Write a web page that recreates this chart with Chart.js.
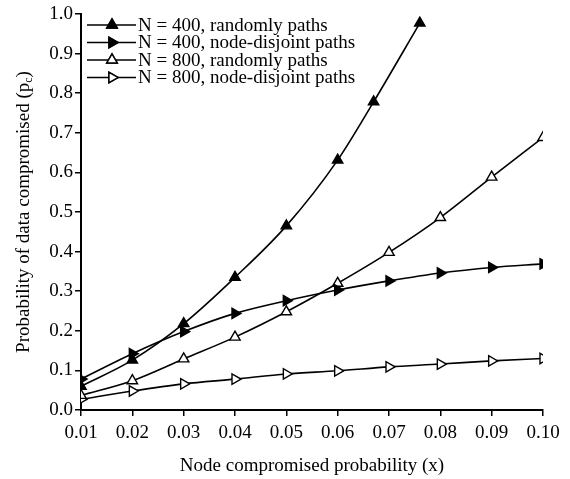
<!DOCTYPE html>
<html>
<head>
<meta charset="utf-8">
<script src="https://cdn.jsdelivr.net/npm/chart.js"></script>
<style>
  html, body { margin: 0; padding: 0; background: #fff; }
  #wrap { width: 570px; height: 479px; }
</style>
</head>
<body>
<div id="wrap"><canvas id="grafico"></canvas></div>
<script>
// datos
const xRandom400 = [0.01, 0.02, 0.03, 0.04, 0.05, 0.06, 0.067, 0.076];
const yRandom400 = [0.060, 0.126, 0.218, 0.335, 0.465, 0.631, 0.778, 0.977];
const xComun = [0.01, 0.02, 0.03, 0.04, 0.05, 0.06, 0.07, 0.08, 0.09, 0.10];
const yDisjoint400 = [0.078, 0.142, 0.198, 0.244, 0.276, 0.303, 0.326, 0.346, 0.360, 0.369];
const yRandom800 = [0.037, 0.074, 0.129, 0.184, 0.248, 0.320, 0.398, 0.486, 0.588, 0.688];
const yDisjoint800 = [0.027, 0.048, 0.066, 0.078, 0.091, 0.099, 0.109, 0.116, 0.124, 0.130];
const etiquetas = [
    'N = 400, randomly paths',
    'N = 400, node-disjoint paths',
    'N = 800, randomly paths',
    'N = 800, node-disjoint paths'
];
const xTicks = [0.01, 0.02, 0.03, 0.04, 0.05, 0.06, 0.07, 0.08, 0.09, 0.10];
const yTicks = [0.0, 0.1, 0.2, 0.3, 0.4, 0.5, 0.6, 0.7, 0.8, 0.9, 1.0];

const fuente = 'Liberation Serif';

function puntos(xs, ys) {
    return ys.map((y, i) => ({ x: xs[i], y: y }));
}

function serie(label, data, relleno, rot) {
    return {
        label: label,
        data: data,
        borderColor: '#000',
        borderWidth: 1.6,
        pointStyle: 'triangle',
        pointRotation: rot,
        pointRadius: 6,
        pointHoverRadius: 6,
        pointBackgroundColor: relleno,
        pointBorderColor: '#000',
        pointBorderWidth: 1.4,
        cubicInterpolationMode: 'monotone',
        fill: false
    };
}

// leyenda dentro del area del grafico
const leyendaPlugin = {
    id: 'leyendaInterna',
    afterDraw(chart) {
        const ctx = chart.ctx;
        ctx.save();
        chart.data.datasets.forEach((ds, i) => {
            const y = 25 + i * 17.5;
            ctx.strokeStyle = '#000';
            ctx.lineWidth = 1.6;
            ctx.beginPath();
            ctx.moveTo(87, y);
            ctx.lineTo(136, y);
            ctx.stroke();
            Chart.helpers.drawPoint(ctx, {
                pointStyle: 'triangle',
                radius: 6,
                rotation: ds.pointRotation,
                borderWidth: 1.4
            }, 112, y);
            ctx.fillStyle = ds.pointBackgroundColor;
            ctx.strokeStyle = '#000';
            ctx.lineWidth = 1.4;
            ctx.fill();
            ctx.stroke();
            ctx.fillStyle = '#000';
            ctx.font = '19px "' + fuente + '"';
            ctx.textAlign = 'left';
            ctx.textBaseline = 'middle';
            ctx.fillText(ds.label, 138, y + 1);
        });
        ctx.restore();
    }
};

// titulo del eje y con subindice
const tituloYPlugin = {
    id: 'tituloY',
    afterDraw(chart) {
        const ctx = chart.ctx;
        const a = chart.chartArea;
        ctx.save();
        ctx.translate(24, (a.top + a.bottom) / 2);
        ctx.rotate(-Math.PI / 2);
        ctx.fillStyle = '#000';
        ctx.textBaseline = 'middle';
        const principal = 'Probability of data compromised (p';
        ctx.font = '19px "' + fuente + '"';
        const w1 = ctx.measureText(principal).width;
        ctx.font = '12px "' + fuente + '"';
        const w2 = ctx.measureText('c').width;
        ctx.font = '19px "' + fuente + '"';
        const w3 = ctx.measureText(')').width;
        let x = -(w1 + w2 + w3) / 2;
        ctx.textAlign = 'left';
        ctx.fillText(principal, x, 0);
        x += w1;
        ctx.font = '12px "' + fuente + '"';
        ctx.fillText('c', x, 5);
        x += w2;
        ctx.font = '19px "' + fuente + '"';
        ctx.fillText(')', x, 0);
        ctx.restore();
    }
};

const ctx = document.getElementById('grafico').getContext('2d');
const miGrafico = new Chart(ctx, {
    type: 'line',
    data: {
        datasets: [
            serie(etiquetas[0], puntos(xRandom400, yRandom400), '#000', 0),
            serie(etiquetas[1], puntos(xComun, yDisjoint400), '#000', 90),
            serie(etiquetas[2], puntos(xComun, yRandom800), '#fff', 0),
            serie(etiquetas[3], puntos(xComun, yDisjoint800), '#fff', 90)
        ]
    },
    options: {
        responsive: true,
        maintainAspectRatio: false,
        animation: false,
        layout: { padding: { top: 14, right: 27, left: 0, bottom: 0 } },
        plugins: {
            legend: { display: false },
            tooltip: { enabled: false }
        },
        scales: {
            x: {
                type: 'linear',
                min: 0.01,
                max: 0.10,
                afterBuildTicks: (axis) => { axis.ticks = xTicks.map(v => ({ value: v })); },
                afterFit: (scale) => { scale.height = 69; },
                border: { display: true, color: '#000', width: 2 },
                grid: { display: true, drawOnChartArea: false, color: '#000', lineWidth: 1.5, tickLength: 6 },
                ticks: {
                    color: '#000',
                    font: { family: fuente, size: 19 },
                    padding: 6,
                    maxRotation: 0,
                    callback: (v) => v.toFixed(2)
                },
                title: {
                    display: true,
                    text: 'Node compromised probability (x)',
                    color: '#000',
                    font: { family: fuente, size: 19 },
                    padding: { top: 0, bottom: 2 }
                }
            },
            y: {
                type: 'linear',
                min: 0,
                max: 1,
                afterBuildTicks: (axis) => { axis.ticks = yTicks.map(v => ({ value: v })); },
                afterFit: (scale) => { scale.width = 81; },
                border: { display: true, color: '#000', width: 2 },
                grid: { display: true, drawOnChartArea: false, color: '#000', lineWidth: 1.5, tickLength: 6 },
                ticks: {
                    color: '#000',
                    font: { family: fuente, size: 19 },
                    padding: 2,
                    callback: (v) => v.toFixed(1)
                }
            }
        }
    },
    plugins: [leyendaPlugin, tituloYPlugin]
});
</script>
</body>
</html>
